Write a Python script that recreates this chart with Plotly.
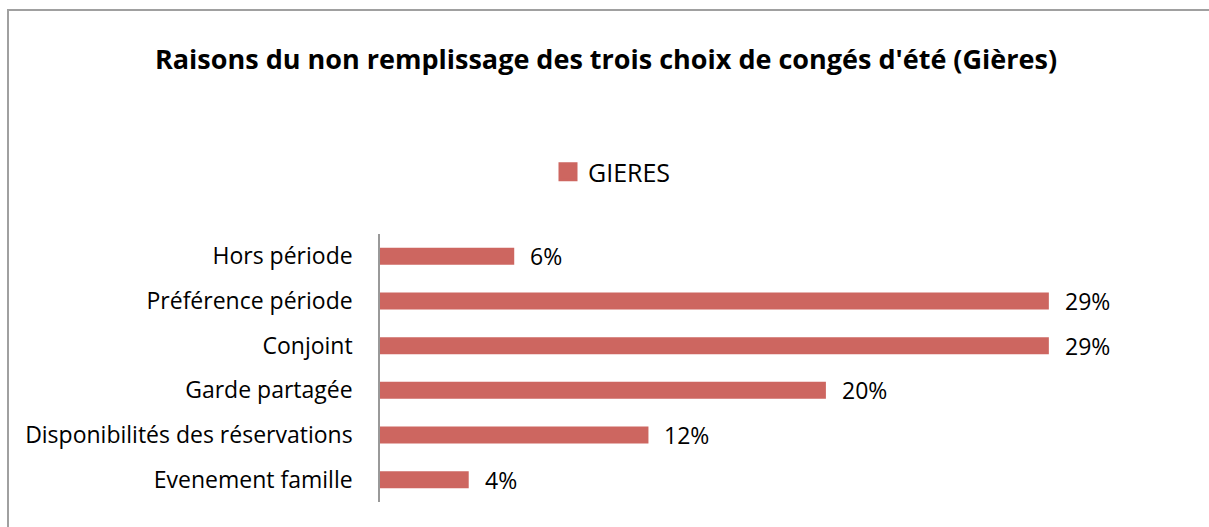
import plotly.graph_objects as go

categories = ["Hors période", "Préférence période", "Conjoint", "Garde partagée",
              "Disponibilités des réservations", "Evenement famille"]
values = [5.9, 29.4, 29.4, 19.6, 11.8, 3.9]
labels = ["6%", "29%", "29%", "20%", "12%", "4%"]
series_name = "GIERES"
title = "Raisons du non remplissage des trois choix de congés d'été (Gières)"

W, H = 1209, 527
O = 0  # page body offset (body margin removed)
L, R, T, B = 380, 29, 234, 25
pw, ph = W - L - R, H - T - B
xmax = pw / 22.75

FONT = "Open Sans"
BAR = "#CD6660"

fig = go.Figure()
fig.add_trace(go.Bar(
    y=categories, x=values, orientation="h", name=series_name,
    marker=dict(color=BAR, line=dict(width=0)), width=0.38,
    showlegend=False,
))
# legend entry (square marker)
fig.add_trace(go.Scatter(
    x=[None], y=[None], mode="markers", name=series_name,
    marker=dict(symbol="square", size=17, color=BAR, line=dict(color=BAR, width=3)),
    showlegend=True,
))

annotations = []
for c, v, t in zip(categories, values, labels):
    annotations.append(dict(x=v, y=c, xref="x", yref="y", text=t, showarrow=False,
                            xanchor="left", xshift=14,
                            font=dict(family=FONT, size=23, color="#000")))

def px_x(p):
    return (p - O - L) / pw

def px_y(p):
    return (H - B - (p - O)) / ph

border = dict(color="#A0A0A0", width=2)
fig.update_layout(
    width=W, height=H,
    margin=dict(l=L, r=R, t=T, b=B),
    paper_bgcolor="white", plot_bgcolor="white",
    title=dict(text="<b>" + title + "</b>", x=(606 - O) / W, xref="container", xanchor="center",
               y=1 - (60 - O) / H, yref="container", yanchor="middle",
               font=dict(family=FONT, size=27, color="#000")),
    legend=dict(orientation="h", x=(612 - O) / W, xref="container", xanchor="center",
                y=1 - (172 - O) / H, yref="container", yanchor="middle",
                font=dict(family=FONT, size=25, color="#000"),
                itemsizing="trace"),
    xaxis=dict(range=[0, xmax], visible=False, fixedrange=True),
    yaxis=dict(categoryorder="array", categoryarray=categories[::-1],
               showline=True, linecolor="#999999", linewidth=1.5,
               showgrid=False, zeroline=False, ticks="",
               ticklabelstandoff=21, fixedrange=True,
               tickfont=dict(family=FONT, size=23, color="#000")),
    annotations=annotations,
    shapes=[
        dict(type="line", xref="paper", yref="paper",
             x0=px_x(7), x1=px_x(1300), y0=px_y(10), y1=px_y(10), line=border),
        dict(type="line", xref="paper", yref="paper",
             x0=px_x(8), x1=px_x(8), y0=px_y(9), y1=px_y(600), line=border),
    ],
)

fig.write_html("out.html", config={"displayModeBar": False},
               post_script="document.body.style.margin='0';document.body.style.overflow='hidden';")
